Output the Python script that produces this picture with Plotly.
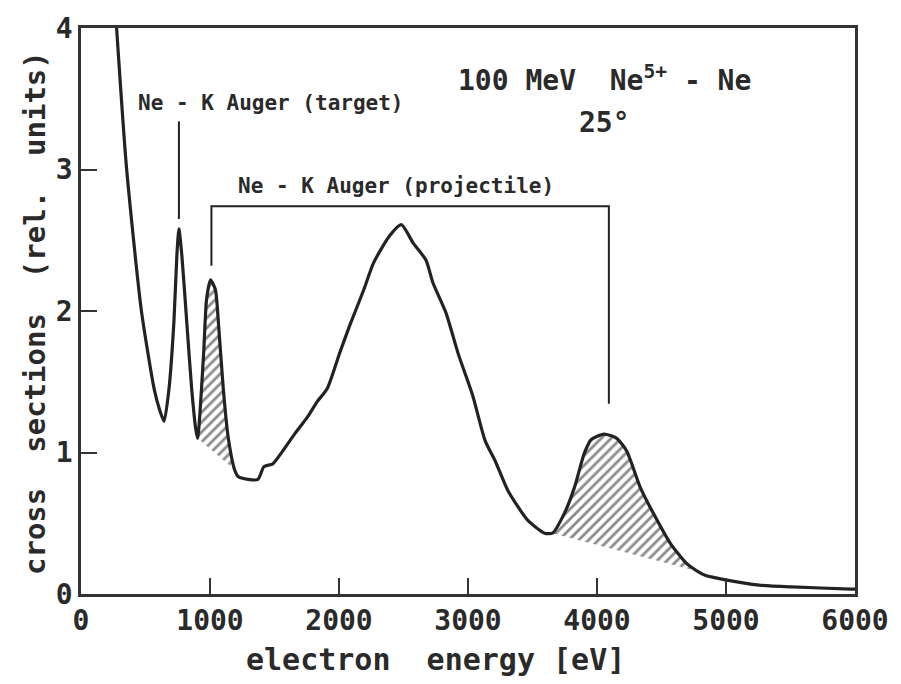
import numpy as np
import plotly.graph_objects as go

# --- data ---
energy = [276, 352, 467, 567, 610, 644, 682, 720, 743, 759, 782, 820, 858, 889, 904,
          950, 973, 1004, 1042, 1065, 1103, 1142, 1190, 1218, 1295, 1372, 1418, 1487,
          1563, 1655, 1755, 1831, 1908, 2008, 2084, 2192, 2268, 2391, 2483, 2575, 2674,
          2728, 2828, 2927, 3034, 3134, 3211, 3310, 3464, 3594, 3655, 3747, 3824, 3900,
          3954, 4054, 4153, 4230, 4337, 4437, 4567, 4690, 4780, 4843, 4996, 5257, 5510,
          5969, 6000]
sigma = [4.00, 3.02, 2.01, 1.45, 1.30, 1.22, 1.45, 1.92, 2.39, 2.58, 2.39, 1.92, 1.45,
         1.17, 1.10, 1.69, 2.08, 2.22, 2.15, 1.92, 1.45, 1.10, 0.88, 0.83, 0.81, 0.81,
         0.90, 0.92, 1.01, 1.13, 1.25, 1.36, 1.45, 1.71, 1.90, 2.15, 2.34, 2.53, 2.61,
         2.48, 2.36, 2.20, 1.99, 1.69, 1.41, 1.08, 0.94, 0.73, 0.52, 0.43, 0.43, 0.57,
         0.75, 0.99, 1.09, 1.13, 1.10, 1.01, 0.75, 0.57, 0.36, 0.22, 0.16, 0.13, 0.10,
         0.063, 0.05, 0.035, 0.035]

# hatched (projectile) peaks: baseline end points
hatch1_x = [904, 1190]
hatch2_x = [3655, 4780]

# bracket markers
target_x = [759, 759]
target_y = [3.34, 2.65]
proj_x = [1011, 1011, 4092, 4092]
proj_y = [2.32, 2.74, 2.74, 1.345]

x_ticks = [0, 1000, 2000, 3000, 4000, 5000, 6000]
y_ticks = [0, 1, 2, 3, 4]

FONT = "DejaVu Sans Mono"
INK = "#2a2a2a"

e = np.array(energy)
s = np.array(sigma)

fig = go.Figure()

for hx in (hatch1_x, hatch2_x):
    m = (e >= hx[0]) & (e <= hx[1])
    fig.add_trace(go.Scatter(
        x=e[m], y=s[m], mode="lines", fill="toself",
        line=dict(width=0, shape="spline", smoothing=0.6),
        fillcolor="rgba(0,0,0,0)",
        fillpattern=dict(shape="/", size=7, solidity=0.4, fgcolor="#1a1a1a",
                         bgcolor="rgba(0,0,0,0)"),
        hoverinfo="skip", showlegend=False))

fig.add_trace(go.Scatter(x=energy, y=sigma, mode="lines",
                         line=dict(color="#222", width=3.2, shape="spline", smoothing=0.6),
                         showlegend=False))

fig.add_trace(go.Scatter(x=target_x, y=target_y, mode="lines",
                         line=dict(color="#222", width=2), showlegend=False))
fig.add_trace(go.Scatter(x=proj_x, y=proj_y, mode="lines",
                         line=dict(color="#222", width=2), showlegend=False))

axis_common = dict(showgrid=False, zeroline=False, showline=True, mirror=True,
                   linecolor="#333", linewidth=2.5, ticks="inside", ticklen=16,
                   tickwidth=2, tickcolor="#333",
                   tickfont=dict(family=FONT, size=28, color=INK, weight="bold"))

fig.update_xaxes(range=[0, 6000], tickvals=x_ticks,
                 ticktext=[str(v) for v in x_ticks], **axis_common)
fig.update_yaxes(range=[0, 4], tickvals=y_ticks,
                 ticktext=[str(v) for v in y_ticks], **axis_common)

ann_font = dict(family=FONT, size=21, color=INK, weight="bold")
PW, PH = 901 - 81 - 37, 684 - 23 - 90


def px_x(p):
    return (p - 81) / PW


def px_y(p):
    return 1 - (p - 23) / PH


fig.update_layout(
    width=901, height=684,
    margin=dict(l=81, r=37, t=23, b=90),
    plot_bgcolor="white", paper_bgcolor="white",
    annotations=[
        dict(x=1471, y=3.47, xref="x", yref="y", text="Ne - K Auger (target)",
             showarrow=False, font=ann_font),
        dict(x=2444, y=2.88, xref="x", yref="y", text="Ne - K Auger (projectile)",
             showarrow=False, font=ann_font),
        dict(x=4061, y=3.64, xref="x", yref="y",
             text="100 MeV  Ne<sup>5+</sup> - Ne", showarrow=False,
             font=dict(family=FONT, size=28, color=INK, weight="bold")),
        dict(x=4061, y=3.33, xref="x", yref="y", text="25°", showarrow=False,
             font=dict(family=FONT, size=28, color=INK, weight="bold")),
        dict(x=px_x(440), y=px_y(660), xref="paper", yref="paper",
             xanchor="center", yanchor="middle",
             text="electron  energy [eV]",
             showarrow=False, font=dict(family=FONT, size=30, color=INK, weight="bold")),
        dict(x=px_x(35), y=px_y(311), xref="paper", yref="paper",
             xanchor="center", yanchor="middle",
             text="cross  sections  (rel.  units)", textangle=-90,
             showarrow=False, font=dict(family=FONT, size=29, color=INK, weight="bold")),
    ],
)

fig.write_html("out.html")
